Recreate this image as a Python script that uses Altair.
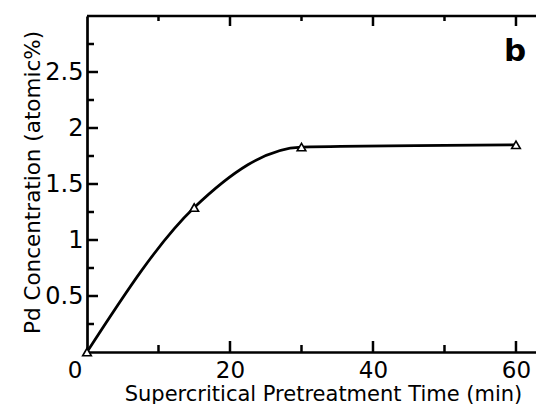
import altair as alt
import pandas as pd

# ---- data ----
time_min = [0, 15, 30, 60]
pd_conc = [0.0, 1.29, 1.83, 1.85]

x_label_values = [20, 40, 60]
y_label_values = [0.5, 1.0, 1.5, 2.0, 2.5]
x_major = [20, 40, 60]
x_minor = [10, 30, 50]
y_major = [0.5, 1.0, 1.5, 2.0, 2.5]
y_minor = [0.25, 0.75, 1.25, 1.75, 2.25, 2.75]
y_top = [3]
origin_label = [0]

W, H = 449, 336
XMAX = 62.8
FONT = "DejaVu Sans"
LW = 2.7

xs = alt.Scale(domain=[0, XMAX], nice=False, zero=False)
ys = alt.Scale(domain=[0, 3], nice=False)

data = pd.DataFrame({"t": time_min, "c": pd_conc})

x_axis = alt.Axis(
    values=x_label_values, format="d", ticks=False, grid=False,
    domainColor="black", domainWidth=LW,
    labelFont=FONT, labelFontSize=23, labelColor="black", labelPadding=7,
    labelFlush=False,
    title="Supercritical Pretreatment Time (min)", titleFont=FONT,
    titleFontSize=21, titleFontWeight="normal", titleColor="black",
    titleX=236, titleY=48, titleAlign="center", titleBaseline="alphabetic",
)
y_axis = alt.Axis(
    values=y_label_values, format="~g", ticks=False, grid=False,
    domainColor="black", domainWidth=LW,
    labelFont=FONT, labelFontSize=24, labelColor="black", labelPadding=4,
    title="Pd Concentration (atomic%)", titleFont=FONT,
    titleFontSize=21.5, titleFontWeight="normal", titleColor="black",
    titleX=-48, titleY=166, titleAlign="center", titleBaseline="alphabetic",
)

line = alt.Chart(data).mark_line(
    interpolate="monotone", color="black", strokeWidth=LW
).encode(
    x=alt.X("t:Q", scale=xs, axis=x_axis),
    y=alt.Y("c:Q", scale=ys, axis=y_axis),
)

points = alt.Chart(data).mark_point(
    shape="triangle-up", filled=True, fill="white", stroke="black",
    strokeWidth=1.6, size=75, opacity=1
).encode(
    x=alt.X("t:Q", scale=xs),
    y=alt.Y("c:Q", scale=ys),
)


def xticks(vals, y0, y1):
    return alt.Chart(pd.DataFrame({"v": vals})).mark_rule(
        color="black", strokeWidth=2.5
    ).encode(
        x=alt.X("v:Q", scale=xs), y=alt.value(y0), y2=alt.value(y1)
    )


def yticks(vals, x0, x1):
    return alt.Chart(pd.DataFrame({"v": vals})).mark_rule(
        color="black", strokeWidth=2.5
    ).encode(
        y=alt.Y("v:Q", scale=ys), x=alt.value(x0), x2=alt.value(x1)
    )


top_frame = alt.Chart(pd.DataFrame({"v": y_top})).mark_rule(
    color="black", strokeWidth=LW
).encode(
    y=alt.Y("v:Q", scale=ys), x=alt.value(0), x2=alt.value(W)
)

b_label = alt.Chart(pd.DataFrame({"v": [0]})).mark_text(
    text="b", font=FONT, fontSize=31, fontWeight="bold", color="black",
    align="center", baseline="alphabetic"
).encode(x=alt.value(428), y=alt.value(45))

zero_label = alt.Chart(pd.DataFrame({"v": origin_label})).mark_text(
    font=FONT, fontSize=23, color="black", align="center", baseline="top",
    dx=-12, dy=8
).encode(
    x=alt.X("v:Q", scale=xs),
    y=alt.Y("v:Q", scale=ys),
    text=alt.Text("v:Q"),
)

chart = alt.layer(
    line,
    top_frame,
    xticks(x_major, H, H - 11), xticks(x_minor, H, H - 7),
    xticks(x_major, 0, 10), xticks(x_minor, 0, 5),
    yticks(y_major, 0, 11), yticks(y_minor, 0, 7),
    points, b_label, zero_label,
).properties(
    width=W, height=H,
    autosize=alt.AutoSizeParams(type="none"),
    padding={"left": 79, "top": 8, "right": 0, "bottom": 52},
).configure_view(stroke=None)

chart.save("out.html", embed_options={"renderer": "svg", "actions": False})
